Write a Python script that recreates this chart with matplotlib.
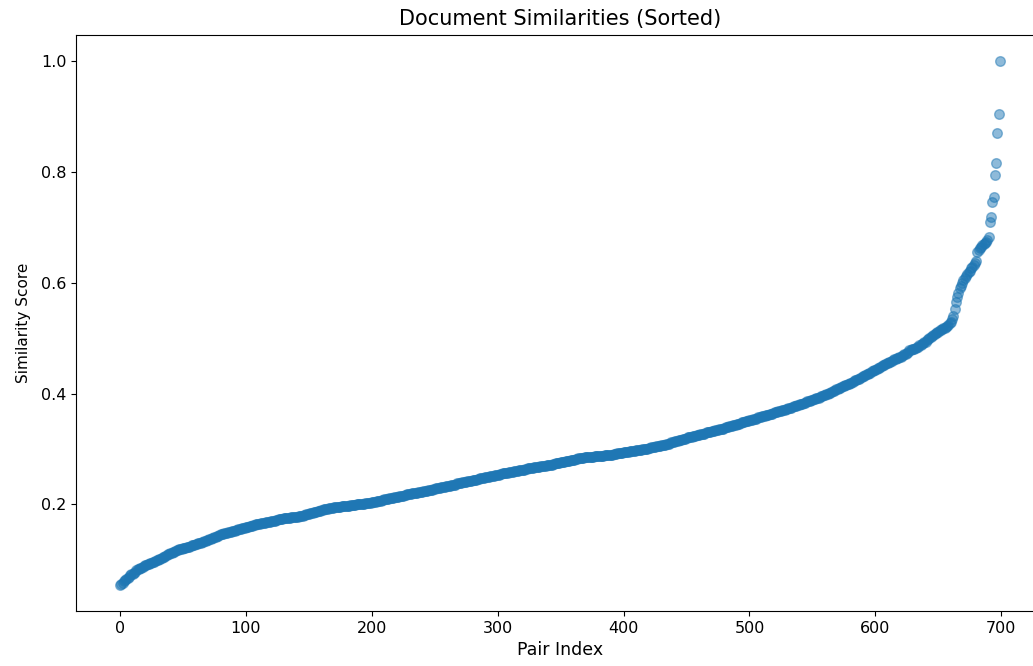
import numpy as np
import matplotlib
matplotlib.use("Agg")
import matplotlib.pyplot as plt

# Sorted document similarity scores (one per pair)
similarity_scores = [
    0.055, 0.057, 0.059, 0.061, 0.063, 0.065, 0.067, 0.070, 0.072, 0.074,
    0.075, 0.077, 0.079, 0.081, 0.083, 0.084, 0.085, 0.086, 0.087, 0.089,
    0.090, 0.091, 0.092, 0.093, 0.094, 0.095, 0.096, 0.097, 0.098, 0.099,
    0.100, 0.101, 0.102, 0.104, 0.105, 0.106, 0.107, 0.109, 0.110, 0.111,
    0.112, 0.113, 0.114, 0.115, 0.116, 0.117, 0.118, 0.119, 0.120, 0.120,
    0.121, 0.122, 0.122, 0.123, 0.124, 0.124, 0.125, 0.126, 0.127, 0.127,
    0.128, 0.129, 0.130, 0.130, 0.131, 0.132, 0.133, 0.134, 0.134, 0.135,
    0.136, 0.137, 0.138, 0.139, 0.140, 0.141, 0.142, 0.143, 0.144, 0.145,
    0.146, 0.147, 0.147, 0.148, 0.149, 0.149, 0.150, 0.151, 0.151, 0.152,
    0.152, 0.153, 0.154, 0.154, 0.155, 0.156, 0.156, 0.157, 0.158, 0.158,
    0.159, 0.160, 0.160, 0.161, 0.161, 0.162, 0.163, 0.163, 0.164, 0.164,
    0.165, 0.165, 0.166, 0.166, 0.167, 0.167, 0.168, 0.168, 0.169, 0.169,
    0.170, 0.170, 0.171, 0.171, 0.172, 0.172, 0.173, 0.173, 0.174, 0.174,
    0.175, 0.175, 0.175, 0.176, 0.176, 0.176, 0.177, 0.177, 0.177, 0.178,
    0.178, 0.178, 0.179, 0.179, 0.180, 0.180, 0.181, 0.181, 0.182, 0.182,
    0.183, 0.184, 0.184, 0.185, 0.186, 0.186, 0.187, 0.188, 0.188, 0.189,
    0.190, 0.190, 0.191, 0.191, 0.192, 0.192, 0.193, 0.193, 0.194, 0.194,
    0.195, 0.195, 0.195, 0.196, 0.196, 0.196, 0.197, 0.197, 0.197, 0.198,
    0.198, 0.198, 0.198, 0.199, 0.199, 0.199, 0.199, 0.199, 0.200, 0.200,
    0.200, 0.200, 0.201, 0.201, 0.201, 0.202, 0.202, 0.203, 0.203, 0.203,
    0.204, 0.204, 0.205, 0.205, 0.206, 0.206, 0.207, 0.207, 0.208, 0.208,
    0.209, 0.209, 0.210, 0.210, 0.211, 0.211, 0.212, 0.212, 0.213, 0.213,
    0.214, 0.214, 0.215, 0.215, 0.216, 0.216, 0.217, 0.217, 0.218, 0.218,
    0.219, 0.219, 0.220, 0.220, 0.221, 0.221, 0.221, 0.222, 0.222, 0.223,
    0.223, 0.224, 0.224, 0.225, 0.225, 0.226, 0.226, 0.227, 0.227, 0.228,
    0.228, 0.229, 0.229, 0.230, 0.230, 0.231, 0.231, 0.232, 0.232, 0.233,
    0.233, 0.234, 0.234, 0.235, 0.235, 0.236, 0.236, 0.237, 0.238, 0.238,
    0.239, 0.239, 0.240, 0.240, 0.241, 0.241, 0.242, 0.242, 0.243, 0.243,
    0.244, 0.244, 0.245, 0.245, 0.246, 0.246, 0.247, 0.247, 0.248, 0.248,
    0.249, 0.249, 0.250, 0.250, 0.251, 0.251, 0.252, 0.252, 0.253, 0.253,
    0.254, 0.254, 0.255, 0.255, 0.256, 0.256, 0.256, 0.257, 0.257, 0.258,
    0.258, 0.259, 0.259, 0.260, 0.260, 0.261, 0.261, 0.262, 0.262, 0.263,
    0.263, 0.263, 0.264, 0.264, 0.265, 0.265, 0.265, 0.266, 0.266, 0.267,
    0.267, 0.267, 0.268, 0.268, 0.269, 0.269, 0.269, 0.270, 0.270, 0.271,
    0.271, 0.271, 0.272, 0.272, 0.273, 0.273, 0.274, 0.274, 0.275, 0.275,
    0.276, 0.276, 0.277, 0.277, 0.278, 0.278, 0.279, 0.279, 0.280, 0.280,
    0.281, 0.281, 0.282, 0.282, 0.283, 0.283, 0.284, 0.284, 0.284, 0.285,
    0.285, 0.285, 0.286, 0.286, 0.286, 0.286, 0.286, 0.287, 0.287, 0.287,
    0.287, 0.288, 0.288, 0.288, 0.288, 0.289, 0.289, 0.289, 0.289, 0.290,
    0.290, 0.290, 0.291, 0.291, 0.291, 0.292, 0.292, 0.293, 0.293, 0.293,
    0.294, 0.294, 0.295, 0.295, 0.295, 0.296, 0.296, 0.297, 0.297, 0.297,
    0.298, 0.298, 0.299, 0.299, 0.299, 0.300, 0.300, 0.301, 0.301, 0.301,
    0.302, 0.302, 0.303, 0.303, 0.304, 0.304, 0.305, 0.305, 0.306, 0.306,
    0.307, 0.307, 0.308, 0.308, 0.309, 0.310, 0.310, 0.311, 0.312, 0.312,
    0.313, 0.314, 0.314, 0.315, 0.316, 0.316, 0.317, 0.318, 0.318, 0.319,
    0.320, 0.321, 0.321, 0.322, 0.322, 0.323, 0.324, 0.324, 0.325, 0.325,
    0.326, 0.327, 0.327, 0.328, 0.328, 0.329, 0.330, 0.330, 0.331, 0.331,
    0.332, 0.333, 0.333, 0.334, 0.334, 0.335, 0.336, 0.336, 0.337, 0.337,
    0.338, 0.339, 0.339, 0.340, 0.341, 0.341, 0.342, 0.343, 0.343, 0.344,
    0.345, 0.346, 0.346, 0.347, 0.348, 0.348, 0.349, 0.350, 0.350, 0.351,
    0.352, 0.353, 0.353, 0.354, 0.355, 0.355, 0.356, 0.357, 0.357, 0.358,
    0.359, 0.360, 0.360, 0.361, 0.362, 0.362, 0.363, 0.364, 0.364, 0.365,
    0.366, 0.367, 0.367, 0.368, 0.369, 0.369, 0.370, 0.371, 0.371, 0.372,
    0.373, 0.374, 0.374, 0.375, 0.376, 0.377, 0.377, 0.378, 0.379, 0.380,
    0.381, 0.382, 0.382, 0.383, 0.384, 0.385, 0.386, 0.386, 0.387, 0.388,
    0.389, 0.390, 0.391, 0.392, 0.393, 0.393, 0.394, 0.395, 0.396, 0.397,
    0.398, 0.399, 0.400, 0.401, 0.402, 0.403, 0.404, 0.405, 0.407, 0.408,
    0.409, 0.410, 0.411, 0.412, 0.413, 0.414, 0.415, 0.416, 0.417, 0.418,
    0.419, 0.420, 0.421, 0.422, 0.424, 0.425, 0.426, 0.427, 0.429, 0.430,
    0.431, 0.432, 0.433, 0.435, 0.436, 0.437, 0.438, 0.440, 0.441, 0.442,
    0.443, 0.444, 0.446, 0.447, 0.448, 0.450, 0.451, 0.452, 0.454, 0.455,
    0.456, 0.457, 0.458, 0.459, 0.461, 0.462, 0.463, 0.464, 0.465, 0.466,
    0.467, 0.468, 0.469, 0.471, 0.472, 0.474, 0.476, 0.478, 0.479, 0.480,
    0.480, 0.481, 0.482, 0.484, 0.485, 0.487, 0.488, 0.490, 0.491, 0.493,
    0.494, 0.496, 0.498, 0.500, 0.502, 0.504, 0.506, 0.508, 0.510, 0.511,
    0.512, 0.514, 0.515, 0.516, 0.518, 0.519, 0.520, 0.522, 0.524, 0.527,
    0.530, 0.535, 0.540, 0.553, 0.565, 0.575, 0.582, 0.590, 0.595, 0.600,
    0.605, 0.608, 0.612, 0.616, 0.619, 0.622, 0.626, 0.629, 0.632, 0.636,
    0.640, 0.655, 0.660, 0.663, 0.665, 0.668, 0.670, 0.672, 0.674, 0.678,
    0.682, 0.709, 0.719, 0.745, 0.755, 0.795, 0.817, 0.870, 0.905, 1.000,
]
pair_index = np.arange(len(similarity_scores))

title_text = "Document Similarities (Sorted)"
x_label = "Pair Index"
y_label = "Similarity Score"

W, H, DPI = 1033, 666, 100
fig = plt.figure(figsize=(W / DPI, H / DPI), dpi=DPI)
ax = fig.add_axes([76 / W, (H - 611) / H, (1044 - 76) / W, (611 - 35) / H])

ax.scatter(pair_index, similarity_scores, s=48, alpha=0.5, color="#1f77b4",
           edgecolors="#1f77b4", linewidths=1.0)

ax.set_title(title_text, fontsize=15, pad=7)
ax.set_xlabel(x_label, fontsize=12.5, labelpad=4)
ax.set_ylabel(y_label, fontsize=11, labelpad=7)
ax.tick_params(labelsize=11.5)
ax.set_xticks([0, 100, 200, 300, 400, 500, 600, 700])
ax.set_yticks([0.2, 0.4, 0.6, 0.8, 1.0])

fig.savefig("out.png", dpi=DPI)
